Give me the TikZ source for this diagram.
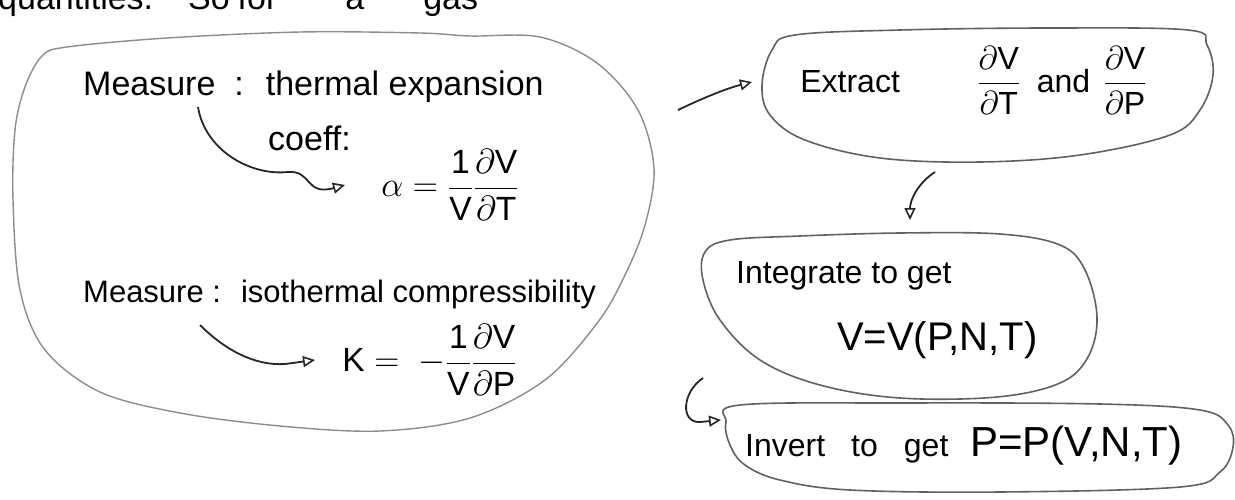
\documentclass[tikz,border=0pt]{standalone}
\usepackage{amsmath}
\usepackage{fontspec}
\setmainfont{Liberation Sans}
\usetikzlibrary{arrows.meta}

\newcommand{\partfrac}[2]{\dfrac{\partial\text{#1}}{\partial\text{#2}}}

\begin{document}
\begin{tikzpicture}[x=1pt,y=-1pt,
	txt/.style={font=\fontsize{34}{40}\selectfont, inner sep=0pt, anchor=base west},
	rtxt/.style={font=\fontsize{32}{38}\selectfont, inner sep=0pt, anchor=base west},
	frm/.style={font=\fontsize{24}{28}\selectfont, scale=1.4, inner sep=0pt, anchor=west},
	blobline/.style={black!45, line width=1.4pt},
	boxline/.style={black!62, line width=1.6pt},
	arr/.style={black!85, line width=1.8pt, -{Triangle[open, length=12pt, width=11pt, line width=1.6pt]}}]
	\useasboundingbox (0,0) rectangle (1235,499);
	\clip (0,0) rectangle (1235,499);

	% line cut off at the top
	\node[txt] (prev) at (-2,9) {quantities.\hspace{35pt}So\hspace{8pt}for\hspace{68pt}a\hspace{59pt}gas};

	% what is measured
	\draw[blobline] plot[smooth cycle, tension=.55] coordinates {(42,56) (67,47) (167,38) (300,32) (420,33) (470,36) (540,37) (597,63) (638,110) (654,168) (645,225) (625,275) (598,322) (545,380) (470,418) (380,431) (280,426) (180,413) (100,392) (45,350) (20,290) (13,200) (15,130) (25,87)};
	\node[txt] (meas1) at (83,95) {Measure \ : \ thermal expansion};
	\node[txt] (coeff) at (268,150) {coeff:};
	\node[frm] (alpha) at (381,185) {$\alpha = \dfrac{\text{1}}{\text{V}}\partfrac{V}{T}$};
	\node[txt, font=\fontsize{31}{38}\selectfont] (meas2) at (83,302) {Measure : \ isothermal compressibility};
	\node[frm] (kappa) at (342,360) {$\text{K} = \ -\dfrac{\text{1}}{\text{V}}\partfrac{V}{P}$};

	\coordinate (m1s) at (198,107);
	\coordinate (m2s) at (200,325);
	\draw[arr] (m1s) .. controls (205,150) and (250,176) .. (288,172) .. controls (312,170) and (305,196) .. ([xshift=-36]alpha.west);
	\draw[arr] (m2s) .. controls (225,350) and (255,366) .. (285,364) -- ([xshift=-27]kappa.west);

	% steps on the right
	\draw[boxline] plot[smooth cycle, tension=.6] coordinates {(762,85) (772,50) (795,35) (900,30) (1050,28) (1188,30) (1207,45) (1213,75) (1200,110) (1170,135) (1080,155) (980,162) (880,158) (805,140) (770,115)};
	\node[rtxt, font=\fontsize{20}{24}\selectfont, scale=1.6] (extract) at (800,92) {Extract\hspace{48pt}$\partfrac{V}{T}$\hspace{10pt}and\hspace{8pt}$\partfrac{V}{P}$};

	\draw[boxline] plot[smooth cycle, tension=.6] coordinates {(705,252) (730,240) (800,236) (900,233) (1000,234) (1060,245) (1085,270) (1097,317) (1088,357) (1060,383) (997,397) (900,398) (820,385) (760,360) (720,320) (703,280)};
	\node[rtxt] (integ) at (736,283) {Integrate to get};
	\node[rtxt, font=\fontsize{40}{46}\selectfont] (vfun) at (837,350) {V=V(P,N,T)};

	\draw[boxline] plot[smooth cycle, tension=.6] coordinates {(740,405) (900,403) (1100,404) (1200,410) (1228,425) (1233,447) (1220,472) (1180,487) (1000,492) (850,490) (780,480) (745,465) (730,445) (726,422)};
	\node[rtxt] (invert) at (745,456) {Invert\hspace{26pt}to\hspace{26pt}get\hspace{22pt}{\fontsize{42}{46}\selectfont P=P(V,N,T)}};

	\coordinate (blobE) at (678,110);
	\coordinate (extW) at (752,82);
	\coordinate (extS) at (935,172);
	\coordinate (intN) at (910,220);
	\coordinate (intSW) at (703,378);
	\coordinate (invW) at (721,420);
	\draw[arr] (blobE) .. controls (705,97) and (728,88) .. (extW);
	\draw[arr] (extS) .. controls (918,183) and (910,200) .. (intN);
	\draw[arr] (intSW) .. controls (682,392) and (680,423) .. (700,422) -- (invW);
\end{tikzpicture}
\end{document}
